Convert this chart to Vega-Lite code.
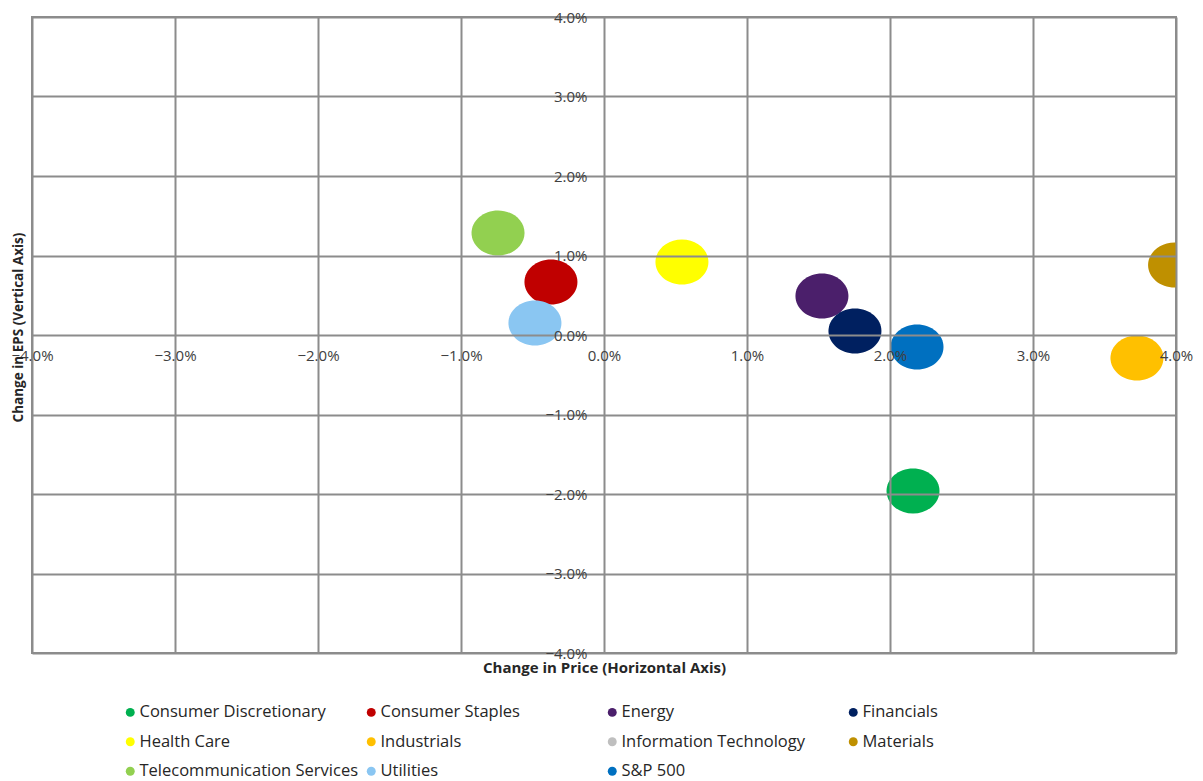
{
  "$schema": "https://vega.github.io/schema/vega-lite/v6.json",
  "width": 1144,
  "height": 636,
  "autosize": {"type": "none"},
  "padding": {"left": 32, "top": 17, "right": 27, "bottom": 128},
  "background": "white",
  "config": {"view": {"stroke": "#8c8c8c", "strokeWidth": 2}, "font": "Open Sans"},
  "data": {
    "values": [
      {"sector": "Telecommunication Services", "price": -0.00741, "eps": 0.01283},
      {"sector": "Consumer Staples", "price": -0.00371, "eps": 0.00667},
      {"sector": "Utilities", "price": -0.00483, "eps": 0.00151},
      {"sector": "Health Care", "price": 0.00545, "eps": 0.00918},
      {"sector": "Energy", "price": 0.01524, "eps": 0.0049},
      {"sector": "Financials", "price": 0.01755, "eps": 0.0005},
      {"sector": "S&P 500", "price": 0.02189, "eps": -0.00151},
      {"sector": "Consumer Discretionary", "price": 0.02161, "eps": -0.01962},
      {"sector": "Industrials", "price": 0.03727, "eps": -0.00289},
      {"sector": "Materials", "price": 0.0399, "eps": 0.0088}
    ]
  },
  "mark": {
    "type": "point",
    "filled": true,
    "opacity": 1,
    "clip": true,
    "size": 2809,
    "shape": "M-1,0A1,0.85,0,1,0,1,0A1,0.85,0,1,0,-1,0Z"
  },
  "encoding": {
    "x": {
      "field": "price",
      "type": "quantitative",
      "scale": {"domain": [-0.04, 0.04], "nice": false, "zero": false},
      "axis": {
        "title": "Change in Price (Horizontal Axis)",
        "format": ".1%",
        "values": [-0.04, -0.03, -0.02, -0.01, 0, 0.01, 0.02, 0.03, 0.04],
        "offset": -318,
        "domain": false,
        "ticks": false,
        "tickSize": 0,
        "labelPadding": 13,
        "grid": true,
        "gridColor": "#8c8c8c",
        "gridWidth": 2,
        "labelFont": "Open Sans",
        "labelFontSize": 15,
        "labelColor": "#404040",
        "labelFlush": false,
        "labelOverlap": false,
        "labelBound": false,
        "titleFont": "Open Sans",
        "titleFontSize": 15,
        "titleFontWeight": "bold",
        "titleColor": "#262626",
        "titleX": 572,
        "titleY": 332,
        "titleAlign": "center",
        "titleBaseline": "middle",
        "zindex": 1
      }
    },
    "y": {
      "field": "eps",
      "type": "quantitative",
      "scale": {"domain": [-0.04, 0.04], "nice": false, "zero": false},
      "axis": {
        "title": "Change in EPS (Vertical Axis)",
        "format": ".1%",
        "values": [-0.04, -0.03, -0.02, -0.01, 0, 0.01, 0.02, 0.03, 0.04],
        "offset": -572,
        "domain": false,
        "ticks": false,
        "tickSize": 0,
        "labelPadding": 17,
        "grid": true,
        "gridColor": "#8c8c8c",
        "gridWidth": 2,
        "labelFont": "Open Sans",
        "labelFontSize": 15,
        "labelColor": "#404040",
        "labelFlush": false,
        "labelOverlap": false,
        "labelBound": false,
        "titleFont": "Open Sans",
        "titleFontSize": 13.5,
        "titleFontWeight": "bold",
        "titleColor": "#262626",
        "titleAngle": 270,
        "titleX": -586,
        "titleY": 310,
        "titleAlign": "center",
        "titleBaseline": "middle",
        "zindex": 1
      }
    },
    "color": {
      "field": "sector",
      "type": "nominal",
      "scale": {
        "domain": ["Consumer Discretionary", "Consumer Staples", "Energy", "Financials", "Health Care", "Industrials", "Information Technology", "Materials", "Telecommunication Services", "Utilities", "S&P 500"],
        "range": ["#00B050", "#C00000", "#4B1F6B", "#002060", "#FFFF00", "#FFC000", "#BFBFBF", "#BF9000", "#92D050", "#8AC6F2", "#0070C0"]
      },
      "legend": {
        "title": null,
        "orient": "none",
        "legendX": 90,
        "legendY": 687,
        "direction": "horizontal",
        "columns": 4,
        "gridAlign": "all",
        "columnPadding": 4,
        "rowPadding": 12.5,
        "symbolType": "circle",
        "symbolSize": 80,
        "symbolOpacity": 1,
        "labelFont": "Open Sans",
        "labelFontSize": 16.5,
        "labelColor": "#262626",
        "labelLimit": 400,
        "labelOffset": 1
      }
    }
  }
}
